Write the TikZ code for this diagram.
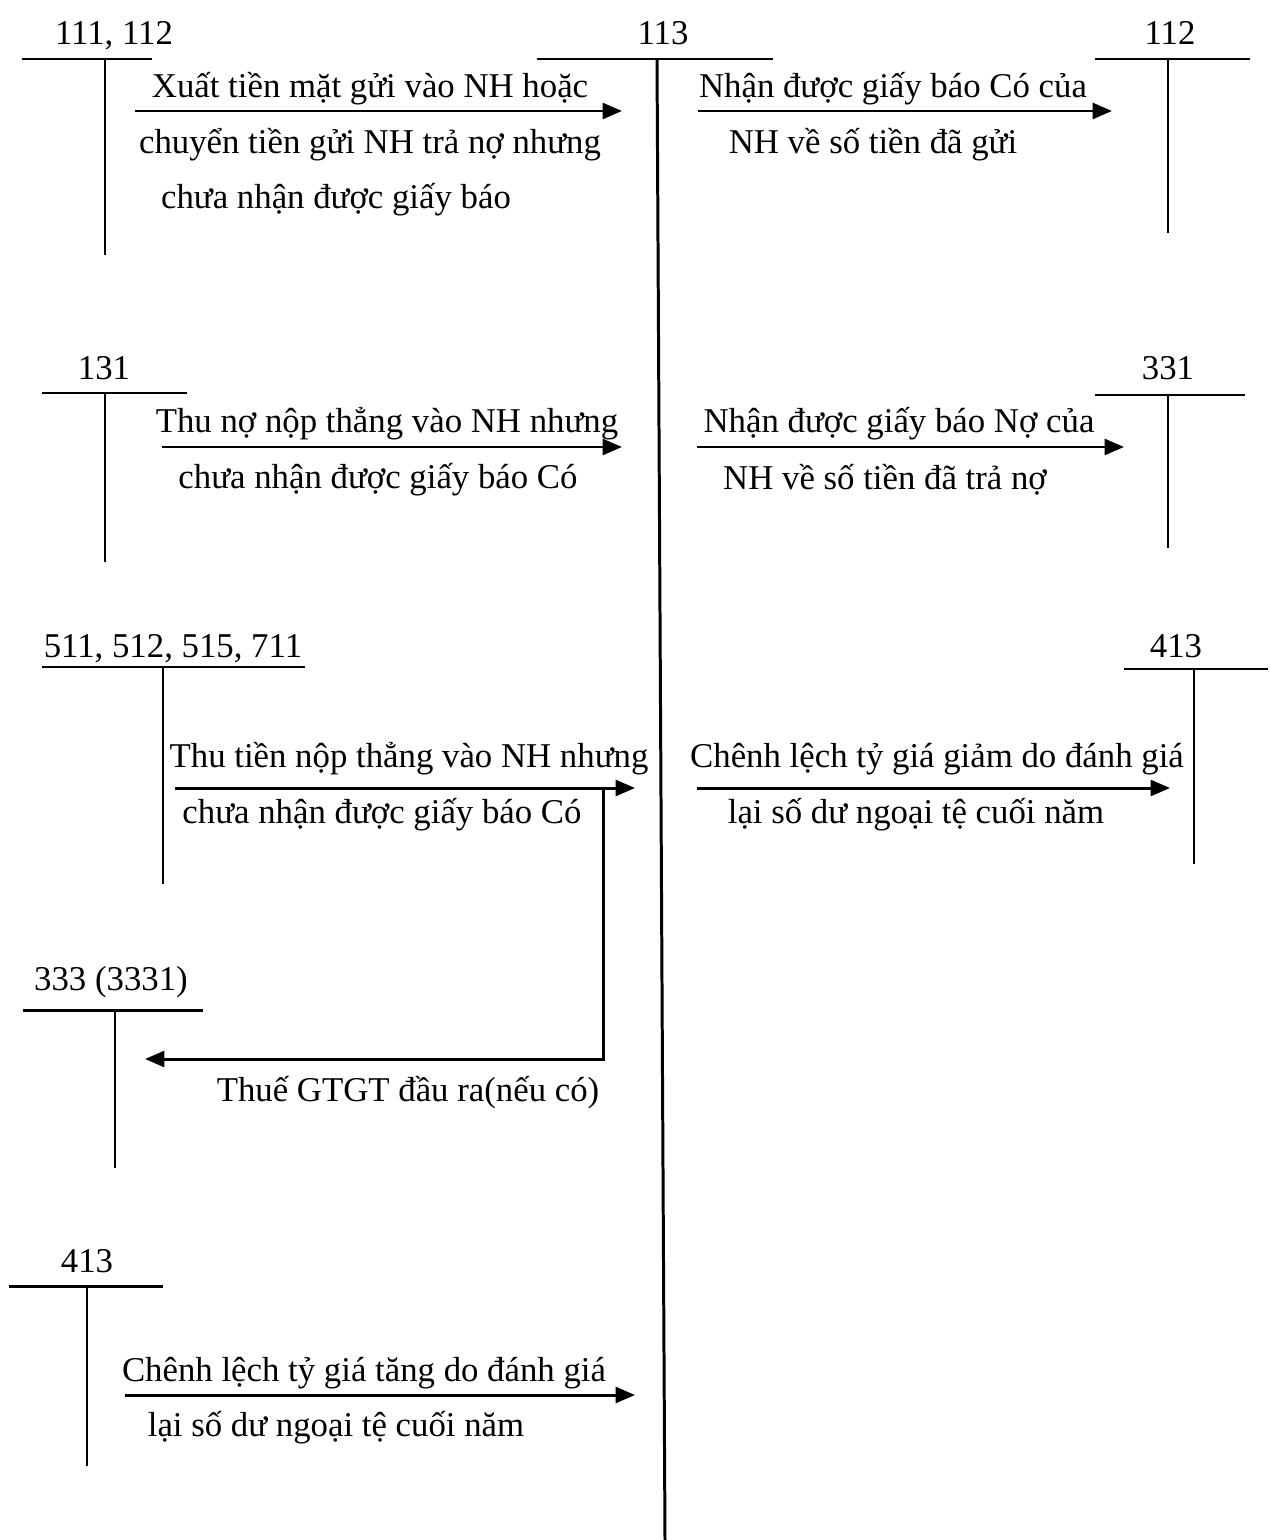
\documentclass[tikz,border=0pt]{standalone}
\usepackage{fontspec}
\setmainfont{Liberation Serif}
\usetikzlibrary{arrows.meta}

\begin{document}
\begin{tikzpicture}[
  x=0.02cm, y=-0.02cm,
  txt/.style={inner sep=0pt, yshift=-0.06cm, font=\fontsize{19.8}{24}\selectfont},
  bar/.style={line width=1.7pt},
  stem/.style={line width=1.2pt},
  arr/.style={-{Triangle[length=11pt,width=9pt]}, line width=1.7pt}
]
\useasboundingbox (0,0) rectangle (1269,1540);

% account 113 in the middle
\node[txt] (a113) at (663,30) {113};
\draw[bar] (537,59) -- (773,59);
\draw[line width=1.7pt] (657,59) -- (665,1540);

% left side accounts
\node[txt] (a111) at (114,33) {111, 112};
\draw[bar] (22,59) -- (152,59);
\draw[stem] (105,59) -- (105,255);

\node[txt] (a131) at (104,365) {131};
\draw[bar] (42,393) -- (187,393);
\draw[stem] (105,393) -- (105,562);

\node[txt] (a511) at (173,646) {511, 512, 515, 711};
\draw[bar] (42,667) -- (305,667);
\draw[stem] (163,667) -- (163,884);

\node[txt] (a333) at (111,979) {333 (3331)};
\draw[bar] (23,1010) -- (203,1010);
\draw[stem] (115,1010) -- (115,1168);

\node[txt] (a413l) at (87,1258) {413};
\draw[bar] (9,1286) -- (163,1286);
\draw[stem] (87,1286) -- (87,1466);

% right side accounts
\node[txt] (a112) at (1170,30) {112};
\draw[bar] (1095,59) -- (1250,59);
\draw[stem] (1168,59) -- (1168,233);

\node[txt] (a331) at (1168,365) {331};
\draw[bar] (1095,395) -- (1245,395);
\draw[stem] (1168,395) -- (1168,548);

\node[txt] (a413r) at (1176,643) {413};
\draw[bar] (1124,669) -- (1268,669);
\draw[stem] (1194,669) -- (1194,864);

% arrow ends
\coordinate (s1) at (135,111);  \coordinate (e1) at (622,111);
\coordinate (s2) at (698,111);  \coordinate (e2) at (1112,111);
\coordinate (s3) at (162,447);  \coordinate (e3) at (622,447);
\coordinate (s4) at (697,447);  \coordinate (e4) at (1124,447);
\coordinate (s5) at (175,788);  \coordinate (e5) at (635,788);
\coordinate (b5) at (603,788);  \coordinate (t5) at (145,1059);
\coordinate (s6) at (697,788);  \coordinate (e6) at (1170,788);
\coordinate (s7) at (125,1395); \coordinate (e7) at (635,1395);

\draw[arr] (s1) -- (e1);
\draw[arr] (s2) -- (e2);
\draw[arr] (s3) -- (e3);
\draw[arr] (s4) -- (e4);
\draw[arr] (s5) -- (e5);
\draw[arr] (b5) |- (t5);
\draw[arr] (s6) -- (e6);
\draw[arr] (s7) -- (e7);

% texts
\node[txt] (l1a) at (370,86) {Xuất tiền mặt gửi vào NH hoặc};
\node[txt] (l1b) at (370,142) {chuyển tiền gửi NH trả nợ nhưng};
\node[txt] (l1c) at (336,197) {chưa nhận được giấy báo};
\node[txt] (l2a) at (893,86) {Nhận được giấy báo Có của};
\node[txt] (l2b) at (873,142) {NH về số tiền đã gửi};
\node[txt] (l3a) at (387,421) {Thu nợ nộp thẳng vào NH nhưng};
\node[txt] (l3b) at (378,477) {chưa nhận được giấy báo Có};
\node[txt] (l4a) at (899,421) {Nhận được giấy báo Nợ của};
\node[txt] (l4b) at (885,477) {NH về số tiền đã trả nợ};
\node[txt] (l5a) at (409,756) {Thu tiền nộp thẳng vào NH nhưng};
\node[txt] (l5b) at (382,812) {chưa nhận được giấy báo Có};
\node[txt] (l5c) at (408,1090) {Thuế GTGT đầu ra(nếu có)};
\node[txt] (l6a) at (937,756) {Chênh lệch tỷ giá giảm do đánh giá};
\node[txt] (l6b) at (916,812) {lại số dư ngoại tệ cuối năm};
\node[txt] (l7a) at (364,1370) {Chênh lệch tỷ giá tăng do đánh giá};
\node[txt] (l7b) at (336,1425) {lại số dư ngoại tệ cuối năm};
\end{tikzpicture}
\end{document}
